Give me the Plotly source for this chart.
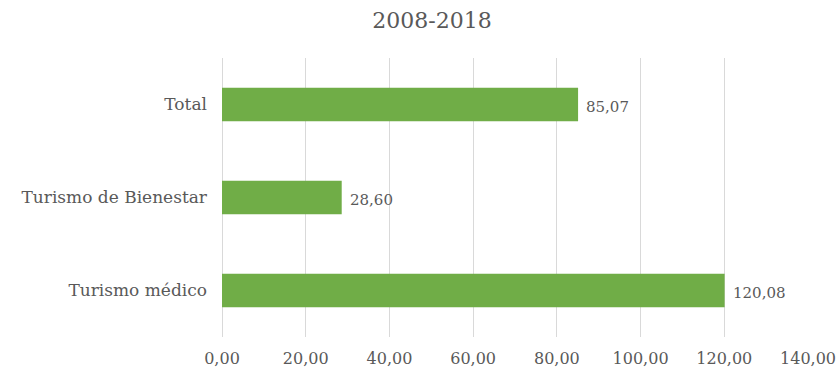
import plotly.graph_objects as go

categories = ["Turismo médico", "Turismo de Bienestar", "Total"]
values = [120.08, 28.60, 85.07]
x_ticks = [0, 20, 40, 60, 80, 100, 120, 140]
x_tick_labels = ["0,00", "20,00", "40,00", "60,00", "80,00", "100,00", "120,00", "140,00"]
title = "2008-2018"

FONT = "DejaVu Serif"
GREY = "#595959"

labels = [f"{v:.2f}".replace(".", ",") for v in values]

fig = go.Figure(go.Bar(
    y=categories, x=values, orientation="h",
    marker=dict(color="#70AD47", line=dict(width=0)),
    width=0.36,
))

for cat, v, lab in zip(categories, values, labels):
    fig.add_annotation(x=v, y=cat, text=lab, showarrow=False,
                       xanchor="left", yanchor="middle", xshift=6, yshift=-2,
                       font=dict(family=FONT, size=15, color=GREY))

fig.update_layout(
    width=836, height=368,
    margin=dict(l=222, r=28, t=58, b=31, autoexpand=False),
    paper_bgcolor="white", plot_bgcolor="white",
    showlegend=False,
    title=dict(text=title, x=432/836, xref="container", xanchor="center",
               y=1 - 20/368, yref="container", yanchor="middle",
               font=dict(family=FONT, size=22, color=GREY)),
    font=dict(family=FONT, size=16, color=GREY),
    xaxis=dict(range=[0, 140], tickvals=x_ticks, ticktext=x_tick_labels,
               showgrid=True, gridcolor="#d9d9d9", gridwidth=1,
               zeroline=True, zerolinecolor="#d9d9d9", zerolinewidth=1,
               showline=False, ticks="", automargin=False,
               ticklabelstandoff=10, tickfont=dict(family=FONT, size=16, color=GREY)),
    yaxis=dict(categoryorder="array", categoryarray=categories,
               range=[-0.5, 2.5], showgrid=False, zeroline=False, showline=False,
               ticks="", ticklabelstandoff=14, automargin=False,
               tickfont=dict(family=FONT, size=17, color=GREY)),
)

fig.write_html("out.html", config={"displayModeBar": False},
               post_script="document.body.style.margin='0';document.body.style.overflow='hidden';")
